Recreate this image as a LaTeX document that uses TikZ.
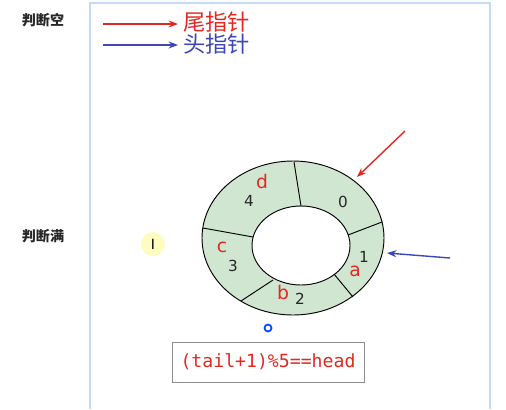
\documentclass[tikz,border=0pt]{standalone}
\usepackage{fontspec}
\setmainfont{DejaVu Sans}
\newfontfamily\cjk{Noto Sans CJK SC}
\newfontfamily\monofont{DejaVu Sans Mono}
\usetikzlibrary{arrows.meta, positioning}
\definecolor{ringgreen}{RGB}{208,230,208}
\definecolor{panelblue}{RGB}{196,218,246}
\definecolor{tailred}{RGB}{226,40,34}
\definecolor{headblue}{RGB}{60,70,180}

\begin{document}
\begin{tikzpicture}[
    x=0.03cm, y=-0.03cm,
    sidelabel/.style={font=\cjk\bfseries\fontsize{12}{14}\selectfont, text=black!85},
    legend/.style={font=\cjk\fontsize{19}{21}\selectfont, anchor=west, inner sep=0pt},
    idx/.style={font=\fontsize{13}{15}\selectfont, text=black!85},
    elem/.style={font=\fontsize{16}{18}\selectfont, text=tailred},
    pointer/.style={-{Stealth[length=8pt, width=6pt]}, line width=1.2pt}
]
\useasboundingbox (0,0) rectangle (506,409);

% Panel
\draw[panelblue, line width=1.2pt] (90,409) -- (90,3) -- (490,3) -- (490,409);

% Side labels
\node[sidelabel] (empty) at (43,20) {判断空};
\node[sidelabel] (full) at (43,236) {判断满};

% Legend
\coordinate (tailstart) at (103,24);
\coordinate (headstart) at (103,45);
\node[legend, text=tailred] (taillabel) at (183,22) {尾指针};
\node[legend, text=headblue] (headlabel) at (183,44) {头指针};
\draw[pointer, tailred] (tailstart) -- (178,24);
\draw[pointer, headblue] (headstart) -- (178,45);

% Ring
\fill[ringgreen, draw=black, thick] (293,238) ellipse [x radius=91, y radius=77];
\fill[white, draw=black, thick] (301,245.5) ellipse [x radius=49, y radius=39.5];
\draw[thick] (294,162) -- (301,206);
\draw[thick] (382,222) -- (348,235);
\draw[thick] (353,297) -- (334,274);
\draw[thick] (241,301) -- (273,280);
\draw[thick] (203,228) -- (253,237);

% Slot indices and elements
\node[idx] (slot0) at (343,202) {0};
\node[idx] (slot1) at (364,257) {1};
\node[idx] (slot2) at (300,299) {2};
\node[idx] (slot3) at (233,266) {3};
\node[idx] (slot4) at (249,201) {4};
\node[elem] (elema) at (355,271) {a};
\node[elem] (elemb) at (283,293) {b};
\node[elem] (elemc) at (222,247) {c};
\node[elem] (elemd) at (262,182) {d};

% Pointers
\coordinate (tailfrom) at (405,131);
\coordinate (tailto) at (357,177);
\coordinate (headfrom) at (450,258);
\coordinate (headto) at (387,253);
\draw[pointer, tailred] (tailfrom) -- (tailto);
\draw[pointer, headblue] (headfrom) -- (headto);

% Cursor marks
\fill[yellow!25] (153,244) circle (12);
\node[font=\fontsize{12}{14}\selectfont] (cursor) at (153,244) {I};
\draw[blue!70!cyan, line width=1.5pt] (268,328) circle (3.5);

% Condition
\node[draw=black!45, line width=0.8pt, minimum width=5.76cm, minimum height=1.2cm, text=tailred,
      font=\monofont\fontsize{15.5}{17}\selectfont] (cond) at (268,362) {(tail+1)\%5==head};
\end{tikzpicture}
\end{document}
